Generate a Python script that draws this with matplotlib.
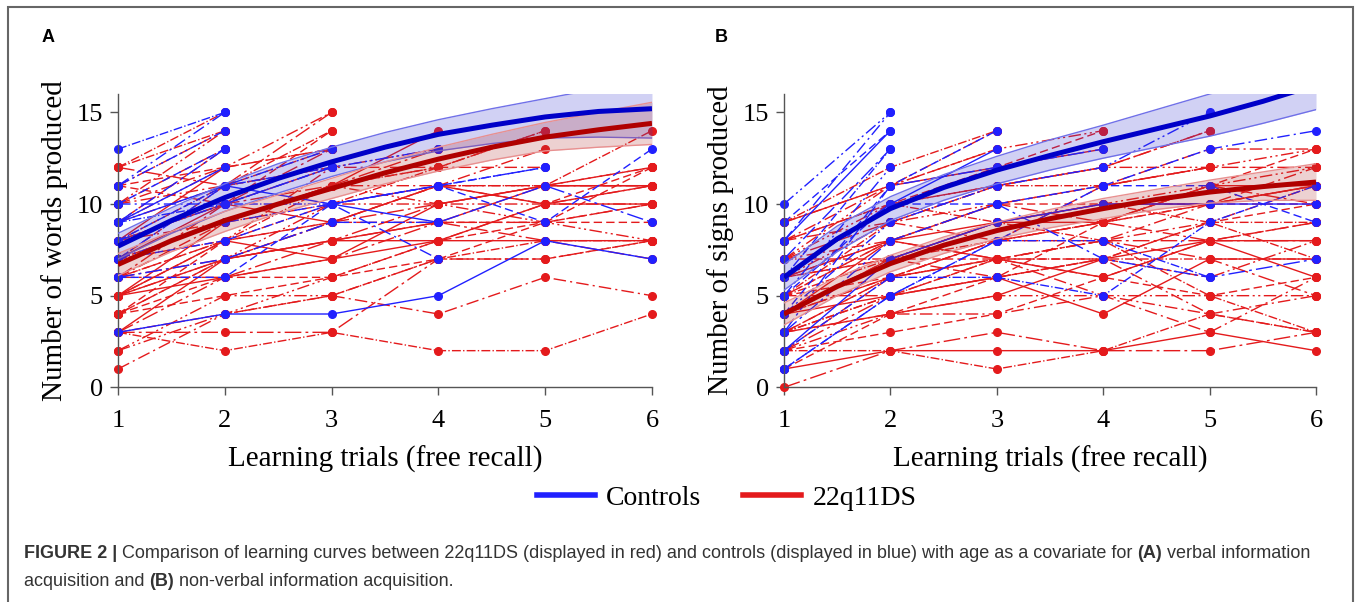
import numpy as np
import matplotlib
matplotlib.use('Agg')
import matplotlib.pyplot as plt
from matplotlib.lines import Line2D
from matplotlib.patches import Rectangle

# individual learning trajectories (score at trial 1, 2, ...)
# panel A : words (verbal)
ctrl_words = [
    [13, 15], [11, 15], [11, 14], [10, 13], [9, 12], [9, 13],
    [8, 11, 12], [10, 10, 12], [7, 11, 13], [6, 6, 10, 11, 12],
    [3, 4, 4, 5, 8, 7], [6, 7, 9, 9, 11, 9], [9, 10, 10, 11, 12],
    [7, 9, 10, 7], [8, 10, 12, 13], [7, 8, 10, 11, 9, 13], [9, 11, 10, 9],
]
dup_words = [
    [12, 15], [11, 14], [10, 14], [9, 13], [8, 12], [12, 11, 15],
    [7, 11, 14], [10, 12, 13], [6, 8, 12], [11, 10, 14], [5, 9, 11, 14],
    [8, 10, 11, 13], [7, 9, 10, 12, 14], [6, 9, 11, 11, 11, 11],
    [5, 7, 10, 10, 10, 10], [4, 8, 9, 9, 9, 9], [3, 7, 8, 8, 8, 8],
    [3, 3, 3, 7, 7, 8], [3, 2, 3, 2, 2, 4], [1, 4, 5, 4, 6, 5],
    [2, 5, 5, 7, 7, 8], [4, 5, 6, 7, 9, 12], [5, 6, 7, 8, 10, 11],
    [6, 7, 9, 10, 11, 12], [7, 8, 10, 11, 11, 14], [8, 9, 11, 12, 14],
    [9, 11, 12, 13], [4, 6, 6, 8, 9, 10], [5, 8, 7, 10, 11, 11],
    [6, 6, 8, 9, 8, 7], [3, 4, 5, 7, 8, 8], [10, 11, 12, 12, 12],
    [7, 9, 11, 10, 9, 8], [11, 12, 13], [8, 10, 9, 11, 10, 10],
    [4, 7, 8, 10, 11, 12], [12, 14], [10, 13], [9, 12, 15], [8, 11, 13],
    [7, 10, 12], [6, 10, 13], [5, 8, 11, 12], [4, 7, 9, 11, 13],
    [2, 4, 6, 8, 10, 11], [6, 8, 9, 11, 10, 12], [5, 7, 8, 9, 11, 11],
    [3, 6, 7, 9, 9, 10],
]
# panel B : signs (non-verbal)
ctrl_signs = [
    [10, 15], [9, 14], [8, 14], [7, 13], [6, 13], [8, 15], [5, 12],
    [4, 11, 14], [6, 10, 13], [3, 8, 10, 7, 6, 7], [2, 6, 6, 5, 9, 11],
    [1, 5, 8, 11, 13, 14], [4, 9, 11, 12, 15], [5, 10, 10, 11, 11, 9],
    [2, 7, 9, 10, 10, 10], [3, 11, 12, 13], [1, 5, 8, 8, 6],
]
dup_signs = [
    [9, 12, 14], [8, 11, 13], [7, 11, 14], [6, 10, 12, 14],
    [9, 11, 12, 13], [8, 10, 11, 12, 14], [5, 9, 11, 11, 12],
    [7, 8, 10, 11, 13, 13], [6, 7, 9, 10, 11, 12], [5, 8, 10, 10, 10, 10],
    [4, 7, 9, 9, 11, 11], [4, 6, 8, 8, 8, 8], [3, 5, 7, 7, 7, 7],
    [3, 6, 7, 8, 9, 11], [2, 4, 5, 5, 5, 5], [2, 3, 4, 6, 8, 9],
    [1, 2, 2, 2, 3, 2], [0, 2, 3, 2, 2, 3], [2, 2, 1, 2, 4, 3],
    [3, 4, 4, 5, 3, 6], [5, 5, 6, 7, 6, 8], [6, 7, 7, 6, 5, 6],
    [4, 5, 6, 4, 7, 7], [7, 9, 8, 9, 8, 9], [8, 10, 9, 10, 9, 7],
    [5, 8, 7, 8, 10, 12], [6, 9, 10, 11, 12], [4, 6, 7, 7, 9, 10],
    [3, 4, 5, 7, 8, 8], [2, 5, 7, 8, 7, 5], [7, 7, 8, 9, 10, 11],
    [8, 9, 11, 12, 14], [9, 11, 13, 14], [1, 4, 6, 9, 11, 13],
    [6, 8, 9, 10, 10, 11], [3, 6, 8, 11, 12, 12], [5, 7, 9, 8, 5, 3],
    [4, 7, 6, 7, 4, 3], [7, 10, 11, 12, 12, 13], [5, 6, 8, 9, 10, 11],
    [4, 8, 7, 6, 8, 6], [6, 8, 10, 9, 11, 10], [3, 5, 6, 7, 9, 9],
    [2, 6, 7, 5, 4, 5],
]

# fitted curves (age as covariate) with confidence band, read at half trials
fit_x = [1, 1.5, 2, 2.5, 3, 3.5, 4, 4.5, 5, 5.5, 6]
ctrl_words_fit = [7.7, 9.1, 10.35, 11.4, 12.3, 13.1, 13.8, 14.3, 14.75, 15.05, 15.2]
ctrl_words_hi = [8.4, 9.8, 11.1, 12.2, 13.1, 13.9, 14.6, 15.2, 15.75, 16.3, 16.8]
ctrl_words_lo = [7.0, 8.4, 9.6, 10.6, 11.5, 12.3, 12.9, 13.3, 13.6, 13.65, 13.6]
dup_words_fit = [6.7, 8.0, 9.1, 10.0, 10.85, 11.7, 12.45, 13.1, 13.65, 14.05, 14.4]
dup_words_hi = [7.3, 8.5, 9.6, 10.5, 11.4, 12.3, 13.1, 13.8, 14.45, 15.0, 15.55]
dup_words_lo = [6.1, 7.4, 8.5, 9.5, 10.3, 11.1, 11.8, 12.4, 12.9, 13.1, 13.25]
ctrl_signs_fit = [6.0, 8.1, 9.75, 10.9, 11.85, 12.65, 13.4, 14.1, 14.8, 15.6, 16.5]
ctrl_signs_hi = [6.7, 8.8, 10.4, 11.6, 12.6, 13.5, 14.3, 15.15, 16.0, 16.8, 17.6]
ctrl_signs_lo = [5.3, 7.4, 9.1, 10.2, 11.1, 11.85, 12.5, 13.1, 13.7, 14.4, 15.15]
dup_signs_fit = [4.0, 5.5, 6.75, 7.75, 8.55, 9.2, 9.75, 10.25, 10.65, 10.95, 11.2]
dup_signs_hi = [4.6, 6.0, 7.2, 8.2, 9.0, 9.7, 10.3, 10.8, 11.3, 11.75, 12.2]
dup_signs_lo = [3.4, 5.0, 6.3, 7.3, 8.1, 8.7, 9.2, 9.7, 10.05, 10.2, 10.2]

trials = [1, 2, 3, 4, 5, 6]

RED = '#e41a1c'
BLUE = '#2020ff'
styles = ['-.', (0, (9, 3, 1.5, 3)), (0, (9, 2.5, 1.5, 2.5, 1.5, 2.5)),
          (0, (6, 3)), '-', (0, (12, 3, 2, 3))]

serif = ['Liberation Serif', 'DejaVu Serif']
sans = ['Liberation Sans', 'DejaVu Sans']

fig = plt.figure(figsize=(13.58, 6.02), dpi=100)


def panel(ax, ctrl, dup, cfit, chi, clo, dfit, dhi, dlo, ylabel):
    k = 0
    for grp, col in ((dup, RED), (ctrl, BLUE)):
        for traj in grp:
            ax.plot(trials[:len(traj)], traj, color=col, lw=1.0,
                    ls=styles[k % len(styles)], marker='o', ms=5.5,
                    mec=col, mfc=col, clip_on=False, zorder=2)
            k += 1
    ax.fill_between(fit_x, clo, chi, color='#3030d0', alpha=0.22, lw=0, zorder=3)
    ax.plot(fit_x, chi, color='#7070e8', lw=1, zorder=3)
    ax.plot(fit_x, clo, color='#7070e8', lw=1, zorder=3)
    ax.fill_between(fit_x, dlo, dhi, color='#b03030', alpha=0.22, lw=0, zorder=3)
    ax.plot(fit_x, dhi, color='#e89090', lw=1, zorder=3)
    ax.plot(fit_x, dlo, color='#e89090', lw=1, zorder=3)
    ax.plot(fit_x, cfit, color='#0000c8', lw=3.6, zorder=4, solid_capstyle='butt')
    ax.plot(fit_x, dfit, color='#b00000', lw=3.6, zorder=4, solid_capstyle='butt')

    ax.set_xlim(1, 6)
    ax.set_ylim(0, 16)
    ax.set_xticks(trials)
    ax.set_yticks([0, 5, 10, 15])
    for s in ('top', 'right'):
        ax.spines[s].set_visible(False)
    for s in ('left', 'bottom'):
        ax.spines[s].set_color('#555555')
        ax.spines[s].set_linewidth(1.0)
    ax.tick_params(direction='out', length=6, width=1, color='#555555',
                   labelsize=19, pad=5)
    ax.tick_params(axis='x', pad=10)
    for t in ax.get_xticklabels() + ax.get_yticklabels():
        t.set_family(serif)
    ax.set_xlabel('Learning trials (free recall)', family=serif, fontsize=21, labelpad=10)
    ax.set_ylabel(ylabel, family=serif, fontsize=21, labelpad=6)


axA = fig.add_axes([0.0869, 0.3566, 0.3932, 0.4872])
panel(axA, ctrl_words, dup_words, ctrl_words_fit, ctrl_words_hi, ctrl_words_lo,
      dup_words_fit, dup_words_hi, dup_words_lo, 'Number of words produced')
axB = fig.add_axes([0.5773, 0.3566, 0.3918, 0.4872])
panel(axB, ctrl_signs, dup_signs, ctrl_signs_fit, ctrl_signs_hi, ctrl_signs_lo,
      dup_signs_fit, dup_signs_hi, dup_signs_lo, 'Number of signs produced')

fig.text(48 / 1358, 1 - 38 / 602, 'A', family=sans, fontsize=13, weight='bold',
         va='center', ha='center')
fig.text(721 / 1358, 1 - 38 / 602, 'B', family=sans, fontsize=13, weight='bold',
         va='center', ha='center')

handles = [Line2D([], [], color=BLUE, lw=4), Line2D([], [], color=RED, lw=4)]
fig.legend(handles, ['Controls', '22q11DS'], loc='center', ncol=2,
           bbox_to_anchor=(0.535, 1 - 498 / 602), frameon=False,
           prop={'family': serif, 'size': 20}, handlelength=2.1,
           columnspacing=1.5, handletextpad=0.4)

# outer frame
fig.patches.append(Rectangle((8 / 1358, -0.1), 1345 / 1358, 1.1 - 7 / 602,
                             transform=fig.transFigure, fill=False,
                             edgecolor='#666666', lw=1.5))

# caption with bold parts
cap_lines = [
    [('FIGURE 2 | ', 'bold'),
     ('Comparison of learning curves between 22q11DS (displayed in red) and controls '
      '(displayed in blue) with age as a covariate for ', 'normal'),
     ('(A)', 'bold'), (' verbal information', 'normal')],
    [('acquisition and ', 'normal'), ('(B)', 'bold'),
     (' non-verbal information acquisition.', 'normal')],
]
cap_y = [1 - 553 / 602, 1 - 581 / 602]
fig.canvas.draw()
r = fig.canvas.get_renderer()
for pieces, y in zip(cap_lines, cap_y):
    x = 24 / 1358
    for txt, w in pieces:
        t = fig.text(x, y, txt, family=sans, fontsize=13, weight=w,
                     color='#333333', va='center', ha='left')
        bb = t.get_window_extent(renderer=r)
        x += bb.width / fig.bbox.width

fig.savefig('out.png', dpi=100)
